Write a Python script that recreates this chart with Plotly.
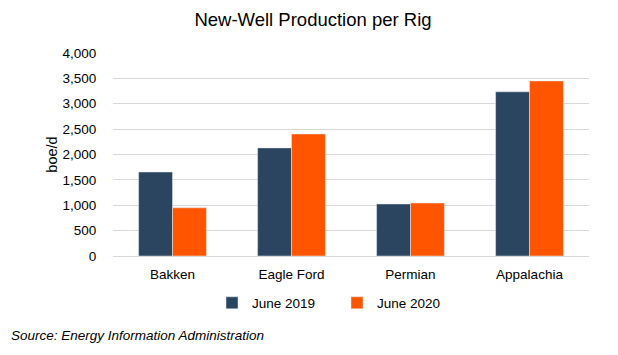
import plotly.graph_objects as go

categories = ["Bakken", "Eagle Ford", "Permian", "Appalachia"]
june_2019 = [1655, 2130, 1025, 3235]
june_2020 = [950, 2405, 1045, 3450]
y_ticks = [0, 500, 1000, 1500, 2000, 2500, 3000, 3500, 4000]
y_tick_labels = ["0", "500", "1,000", "1,500", "2,000", "2,500", "3,000", "3,500", "4,000"]

fig = go.Figure()
fig.add_trace(go.Bar(x=categories, y=june_2019, name="June 2019", marker_color="#2B4560"))
fig.add_trace(go.Bar(x=categories, y=june_2020, name="June 2020", marker_color="#FF5500"))

fig.update_layout(
    width=618, height=355,
    margin=dict(l=113, r=29, t=53, b=99),
    paper_bgcolor="white", plot_bgcolor="white",
    font=dict(family="Liberation Sans, Arial", size=13.5, color="#000000"),
    title=dict(text="New-Well Production per Rig", x=313 / 618, xanchor="center",
               y=1 - 20 / 355, yanchor="middle", font=dict(size=18.5)),
    barmode="group", bargap=0.43, bargroupgap=0,
    showlegend=True,
    legend=dict(orientation="h", x=(212 - 113) / 476, xanchor="left",
                y=-(303 - 256) / 203, yanchor="middle",
                font=dict(size=13.5), entrywidth=80, itemwidth=30),
    xaxis=dict(showline=True, linecolor="#d9d9d9", ticks="outside", ticklen=6,
               tickcolor="rgba(0,0,0,0)", tickfont=dict(size=13.5)),
    yaxis=dict(range=[0, 4000], tickvals=y_ticks, ticktext=y_tick_labels,
               showgrid=True, gridcolor="#d9d9d9", zeroline=False,
               ticks="outside", ticklen=13, tickcolor="rgba(0,0,0,0)",
               tickfont=dict(size=13.5),
               title=dict(text="boe/d", standoff=1, font=dict(size=14.5))),
    annotations=[dict(text="<i>Source: Energy Information Administration</i>",
                      xref="paper", yref="paper", x=-104 / 476, y=-(335 - 256) / 203,
                      xanchor="left", yanchor="middle", showarrow=False,
                      font=dict(size=13.5))],
)

fig.write_html("out.html", config={"displayModeBar": False},
               post_script="document.body.style.margin='0';")
